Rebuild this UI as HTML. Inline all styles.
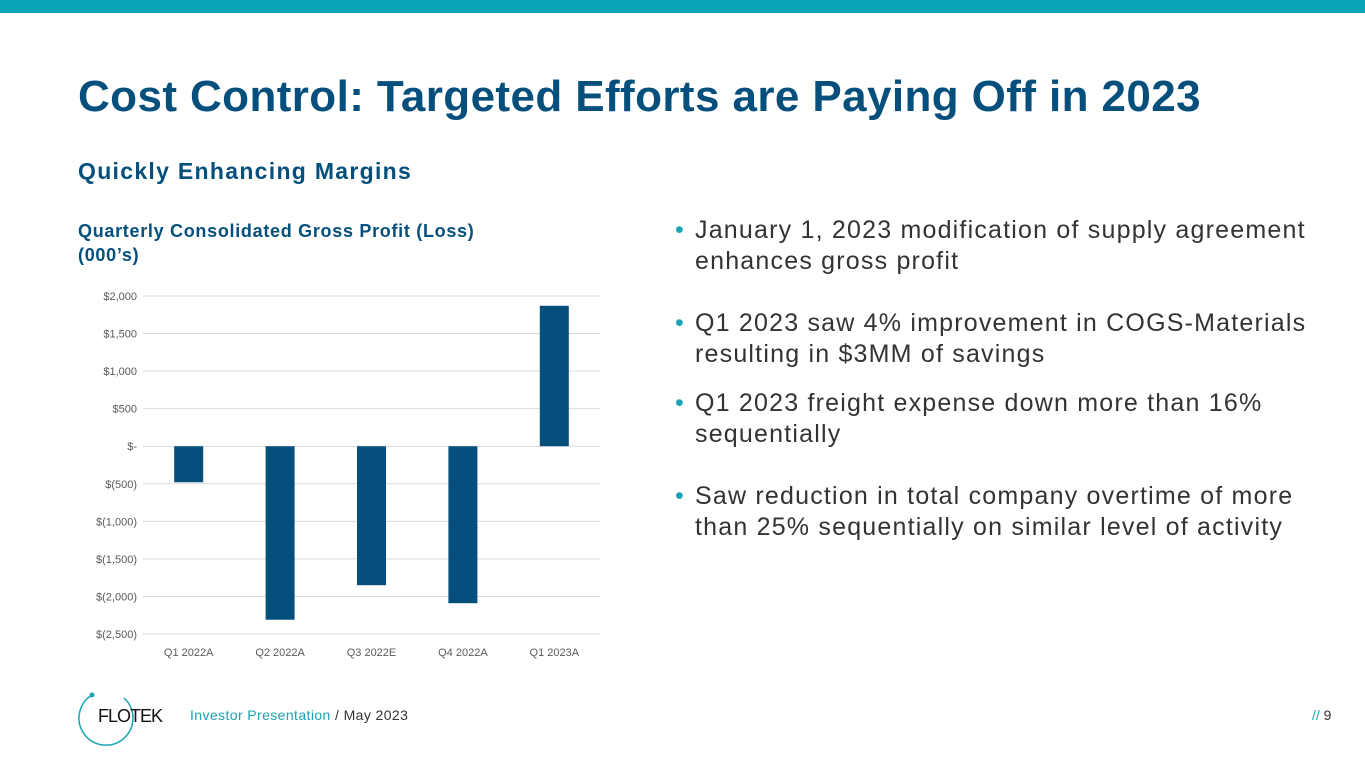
<!DOCTYPE html>
<html><head><meta charset="utf-8"><style>
body{margin:0;width:1365px;height:768px;position:relative;background:#fff;font-family:"Liberation Sans",sans-serif;overflow:hidden}
.abs{position:absolute}
.b{position:absolute;left:672px;font-size:25px;color:#333;line-height:31px;letter-spacing:1.2px;white-space:nowrap}
.b span{position:absolute;left:-20px;color:#1aa3b5}
</style></head><body>
<div class="abs" style="left:0;top:0;width:1365px;height:13px;background:#0aa3b5"></div>
<div class="abs" style="left:78px;top:72px;font-size:44px;font-weight:bold;color:#054f7d;white-space:nowrap;letter-spacing:0.4px">Cost Control: Targeted Efforts are Paying Off in 2023</div>
<div class="abs" style="left:78px;top:158px;font-size:23px;font-weight:bold;color:#054f7d;letter-spacing:1.3px">Quickly Enhancing Margins</div>
<div class="abs" style="left:78px;top:219px;font-size:18px;font-weight:bold;color:#054f7d;line-height:24px;letter-spacing:0.7px">Quarterly Consolidated Gross Profit (Loss)<br>(000’s)</div>
<div class="b" style="top:215px;left:695px"><span>•</span>January 1, 2023 modification of supply agreement<br>enhances gross profit</div>
<div class="b" style="top:308px;left:695px"><span>•</span>Q1 2023 saw 4% improvement in COGS-Materials<br>resulting in $3MM of savings</div>
<div class="b" style="top:388px;left:695px"><span>•</span>Q1 2023 freight expense down more than 16%<br>sequentially</div>
<div class="b" style="top:481px;left:695px"><span>•</span>Saw reduction in total company overtime of more<br>than 25% sequentially on similar level of activity</div>
<svg class="abs" style="left:0;top:0" width="1365" height="768" id="chart"></svg>
<svg class="abs" style="left:76px;top:690px" width="60" height="60"><path d="M 16 5 A 27 27 0 1 0 48 8" fill="none" stroke="#1aa3b5" stroke-width="1.5"/><circle cx="16" cy="5" r="2.5" fill="#1aa3b5"/></svg>
<div class="abs" style="left:98px;top:706px;font-size:18px;color:#111;letter-spacing:-1px">FLOTEK</div>
<div class="abs" style="left:190px;top:707px;font-size:14px;color:#333;letter-spacing:0.4px"><span style="color:#1aa3b5">Investor Presentation</span> / May 2023</div>
<div class="abs" style="left:1312px;top:707px;font-size:14px;color:#333"><span style="color:#1aa3b5">//</span> 9</div>
<script>
const categories=["Q1 2022A","Q2 2022A","Q3 2022E","Q4 2022A","Q1 2023A"];
const values=[-480,-2310,-1850,-2090,1870];
const ticks=[2000,1500,1000,500,0,-500,-1000,-1500,-2000,-2500];
const tickLabels=["$2,000","$1,500","$1,000","$500","$-","$(500)","$(1,000)","$(1,500)","$(2,000)","$(2,500)"];
const svg=document.getElementById('chart');const NS="http://www.w3.org/2000/svg";
const x0=143,x1=600,yTop=296,yBot=634,vMax=2000,vMin=-2500;
const y=v=>yTop+(vMax-v)/(vMax-vMin)*(yBot-yTop);
const band=(x1-x0)/categories.length;
const xc=i=>x0+band*(i+0.5);
function mk(t,a){const e=document.createElementNS(NS,t);for(const k in a)e.setAttribute(k,a[k]);svg.appendChild(e);return e;}
ticks.forEach((t,i)=>{
 const g=mk('line',{x1:x0,x2:x1,y1:y(t),y2:y(t),stroke:'#d9d9d9','stroke-width':1});
 
 
 const l=mk('text',{x:137,y:y(t)+4,'text-anchor':'end','font-size':11,fill:'#595959','font-family':'Liberation Sans, sans-serif'});
 l.textContent=tickLabels[i];
 
 
});
values.forEach((v,i)=>{
 const w=29;const top=Math.min(y(v),y(0));
 const r=mk('rect',{x:xc(i)-w/2,y:top,width:w,height:Math.abs(y(v)-y(0)),fill:'#054f7d'});
 
 
 const l=mk('text',{x:xc(i),y:656,'text-anchor':'middle','font-size':11,fill:'#595959','font-family':'Liberation Sans, sans-serif'});
 l.textContent=categories[i];
 
 
});
</script>
</body></html>
